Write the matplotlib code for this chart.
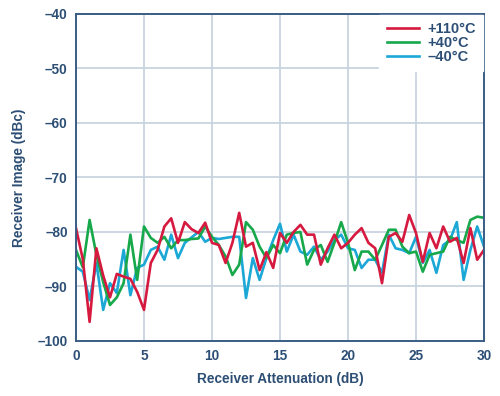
import numpy as np
import matplotlib
matplotlib.use("Agg")
import matplotlib.pyplot as plt

# receiver attenuation, 0.5 dB steps
atten = np.arange(0, 30.5, 0.5)

# receiver image (dBc)
img_110 = [-79.3, -85.0, -96.5, -83.0, -88.0, -92.0, -87.7, -88.2, -88.6, -91.0,
           -94.3, -85.7, -83.3, -79.0, -77.5, -82.0, -78.2, -79.5, -80.2, -78.3,
           -82.0, -82.4, -85.7, -82.0, -76.5, -82.7, -82.0, -87.0, -83.7, -86.6,
           -80.2, -82.0, -80.0, -78.7, -80.5, -80.5, -86.0, -83.0, -80.5, -83.0,
           -82.0, -80.5, -79.3, -82.0, -83.0, -89.4, -80.9, -80.2, -81.8, -76.9,
           -80.2, -85.5, -80.2, -83.0, -79.0, -81.8, -81.1, -85.7, -79.3, -85.1,
           -83.3]
img_40 = [-83.3, -86.5, -77.8, -84.2, -89.2, -93.4, -92.0, -89.4, -80.5, -88.8,
          -79.0, -81.1, -82.0, -80.9, -83.0, -81.5, -81.5, -81.3, -81.2, -79.0,
          -80.9, -82.4, -84.5, -87.9, -86.0, -78.2, -79.6, -82.7, -84.8, -82.4,
          -83.9, -80.5, -80.2, -80.0, -86.0, -83.3, -82.4, -85.5, -82.0, -78.2,
          -82.0, -87.0, -83.6, -83.6, -85.1, -82.4, -79.6, -79.6, -82.7, -83.9,
          -83.6, -87.3, -84.2, -83.9, -83.6, -80.9, -81.5, -82.0, -77.8, -77.2,
          -77.4]
img_m40 = [-86.4, -87.3, -92.5, -85.7, -94.3, -89.4, -91.2, -83.3, -91.6, -86.6,
           -86.0, -83.3, -82.7, -85.1, -80.5, -84.8, -82.0, -81.0, -80.0, -81.8,
           -81.1, -81.3, -81.1, -80.9, -80.9, -92.1, -84.8, -88.8, -84.8, -81.5,
           -78.5, -83.6, -80.5, -83.6, -84.2, -82.7, -85.1, -83.6, -81.5, -80.5,
           -83.0, -83.3, -86.6, -85.1, -85.1, -87.5, -80.5, -83.0, -83.3, -83.9,
           -80.9, -85.7, -83.3, -87.5, -82.4, -81.5, -78.2, -88.8, -83.3, -79.0,
           -82.7]

series = [("+110°C", img_110, "#d6193f"),
          ("+40°C", img_40, "#16a84a"),
          ("\u201340°C", img_m40, "#1ba8d6")]

xticks = [0, 5, 10, 15, 20, 25, 30]
yticks = [-40, -50, -60, -70, -80, -90, -100]

txt = "#2d4f75"
plt.rcParams['font.family'] = ['Liberation Sans', 'DejaVu Sans']
plt.rcParams['font.weight'] = 'bold'

fig = plt.figure(figsize=(5, 3.96), dpi=100)
ax = fig.add_axes([0.152, 0.139, 0.816, 0.826])

# draw the lines in reverse so red ends on top
for name, vals, col in reversed(series):
    ax.plot(atten, vals, color=col, lw=1.9, label=name)

ax.set_xlim(0, 30)
ax.set_ylim(-100, -40)
ax.set_xticks(xticks)
ax.set_yticks(yticks)
ax.set_yticklabels([("\u2013%d" % -v) if v < 0 else str(v) for v in yticks])
ax.grid(True, color="#c9d4df", lw=1.3)
ax.set_axisbelow(True)
for s in ax.spines.values():
    s.set_color("#3a5d84")
    s.set_linewidth(1.4)
ax.tick_params(length=0, labelsize=9.8, labelcolor=txt, pad=6)
ax.set_xlabel("Receiver Attenuation (dB)", fontsize=9.8, color=txt, fontweight='bold', labelpad=6)
ax.set_ylabel("Receiver Image (dBc)", fontsize=9.8, color=txt, fontweight='bold', labelpad=8)

h, l = ax.get_legend_handles_labels()
leg = ax.legend(h[::-1], l[::-1], loc="upper right", frameon=True, fontsize=10.5,
                handlelength=2.2, handletextpad=0.6, labelspacing=0.0,
                borderpad=0.5, borderaxespad=0.05, fancybox=False)
leg.get_frame().set_edgecolor("white")
leg.get_frame().set_facecolor("white")
leg.get_frame().set_alpha(1)
for t in leg.get_texts():
    t.set_color(txt)

fig.savefig("out.png", dpi=100)
